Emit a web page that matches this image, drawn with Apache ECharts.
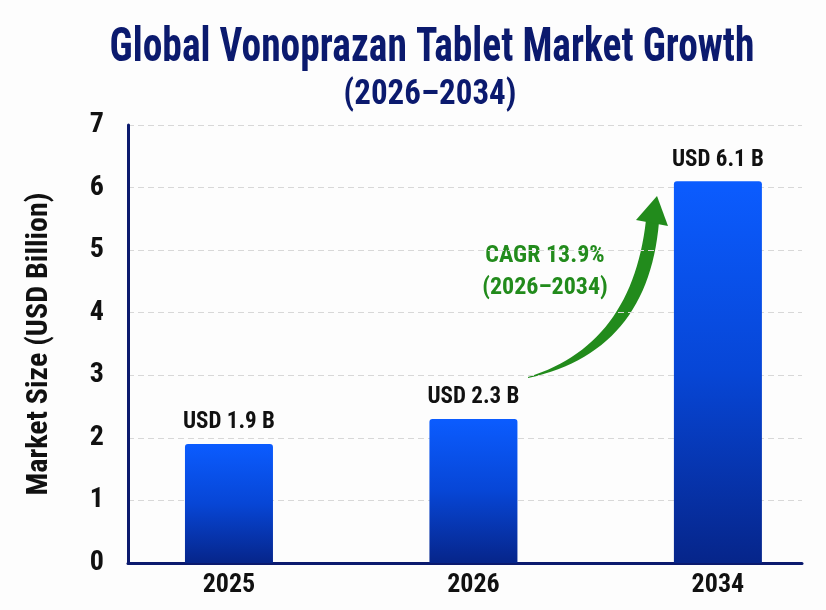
<!DOCTYPE html>
<html>
	<head>
		<meta charset="UTF-8">
		<title>Global Vonoprazan Tablet Market Growth</title>
		<script src="https://cdn.jsdelivr.net/npm/echarts@6/dist/echarts.min.js"></script>
		<style>
			html, body { margin: 0; padding: 0; background: #fdfdfd; }
			#main { width: 826px; height: 610px; }
		</style>
	</head>
	<body>
		<div id="main"></div>
		<script>
			// 数据
			var years = ['2025', '2026', '2034'];
			var marketSize = [1.9, 2.3, 6.1];
			var barLabels = ['USD 1.9 B', 'USD 2.3 B', 'USD 6.1 B'];
			var yTicks = [0, 1, 2, 3, 4, 5, 6, 7];

			var font = '"Roboto Condensed", "Liberation Sans", sans-serif';
			var navy = '#0b1a6e';
			var green = '#228b1c';

			var myChart = echarts.init(document.getElementById('main'));

			// x 轴用数值轴，这样柱子的位置可以和原图一致
			var seriesData = years.map(function(y, i) {
				return [i, marketSize[i]];
			});

			// 二次贝塞尔取点，画弯曲箭头
			function quad(p0, c, p1, n) {
				var pts = [];
				for (var i = 0; i <= n; i++) {
					var t = i / n, u = 1 - t;
					pts.push([u * u * p0[0] + 2 * u * t * c[0] + t * t * p1[0],
						u * u * p0[1] + 2 * u * t * c[1] + t * t * p1[1]]);
				}
				return pts;
			}
			var arrowPts = quad([528, 377], [632, 345], [646, 220], 30)
				.concat(quad([659, 222], [648, 352], [528, 378], 30));

			var option = {
				backgroundColor: '#fdfdfd',
				grid: { left: 128, right: 24, top: 125, bottom: 47 },
				xAxis: {
					type: 'value',
					min: -0.413,
					max: 2.344,
					splitLine: { show: false },
					axisTick: { show: false },
					axisLine: { show: true, lineStyle: { color: navy, width: 3 } },
					axisLabel: {
						showMinLabel: false,
						showMaxLabel: false,
						margin: 9,
						fontFamily: font,
						fontSize: 26,
						fontWeight: 'bold',
						color: '#111',
						formatter: function(v) {
							return Number.isInteger(v) && years[v] ? years[v] : '';
						}
					}
				},
				yAxis: {
					type: 'value',
					min: yTicks[0],
					max: yTicks[yTicks.length - 1],
					interval: 1,
					name: 'Market Size (USD Billion)',
					nameLocation: 'middle',
					nameGap: 74,
					nameTextStyle: { fontFamily: font, fontSize: 30, fontWeight: 'bold', color: '#111' },
					axisLine: { show: true, onZero: false, lineStyle: { color: navy, width: 3 } },
					axisTick: { show: false },
					axisLabel: { margin: 24, fontFamily: font, fontSize: 28, fontWeight: 'bold', color: '#111' },
					splitLine: { lineStyle: { color: '#d8d8d8', type: [6, 4], width: 1 } }
				},
				series: [{
					type: 'bar',
					barWidth: 88,
					data: seriesData,
					itemStyle: {
						borderRadius: [3, 3, 0, 0],
						color: new echarts.graphic.LinearGradient(0, 0, 0, 1, [
							{ offset: 0, color: '#0b5cff' },
							{ offset: 0.5, color: '#0746d6' },
							{ offset: 1, color: '#06258a' }
						])
					},
					label: {
						show: true,
						position: 'top',
						distance: 10,
						fontFamily: font,
						fontSize: 23,
						fontWeight: 'bold',
						color: '#111',
						formatter: function(p) {
							return barLabels[p.dataIndex];
						}
					}
				}],
				graphic: [{
					// 标题（纵向拉高一点，接近原图的窄体字）
					type: 'text',
					x: 432,
					y: 49,
					scaleY: 1.2,
					style: {
						text: 'Global Vonoprazan Tablet Market Growth',
						fill: navy,
						font: 'bold 39.5px ' + font,
						align: 'center',
						verticalAlign: 'middle'
					}
				}, {
					type: 'text',
					x: 430,
					y: 95,
					scaleY: 1.05,
					style: {
						text: '(2026–2034)',
						fill: navy,
						font: 'bold 33px ' + font,
						align: 'center',
						verticalAlign: 'middle'
					}
				}, {
					// CAGR 文本
					type: 'text',
					x: 545,
					y: 240,
					style: {
						text: 'CAGR 13.9%\n(2026–2034)',
						fill: green,
						font: 'bold 24px ' + font,
						align: 'center',
						lineHeight: 32
					}
				}, {
					type: 'polygon',
					shape: { points: arrowPts },
					style: { fill: green }
				}, {
					type: 'polygon',
					shape: { points: [[657, 196], [636, 220], [668, 226]] },
					style: { fill: green }
				}]
			};

			myChart.setOption(option);
		</script>
	</body>
</html>
